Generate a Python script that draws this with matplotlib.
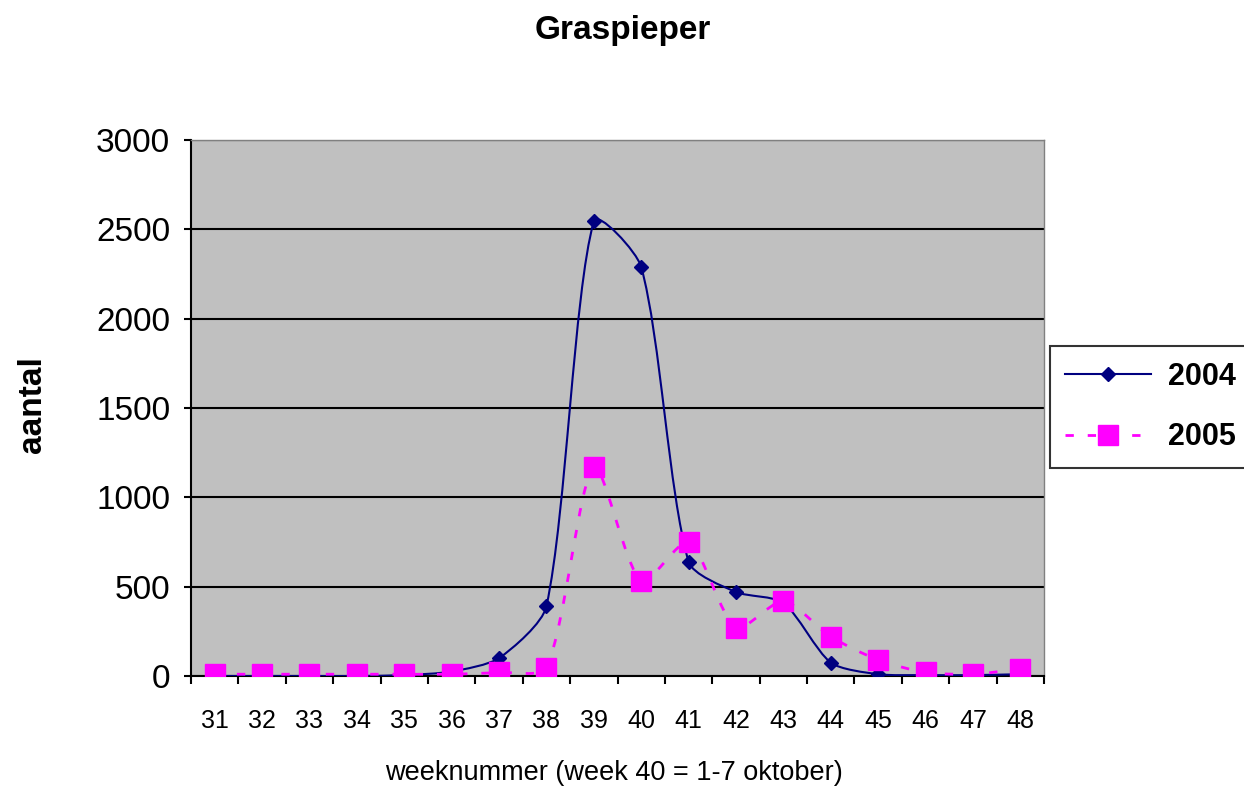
import numpy as np
import matplotlib.pyplot as plt
from matplotlib.path import Path
from matplotlib.patches import PathPatch
from matplotlib.lines import Line2D

plt.rcParams['font.family'] = ['Liberation Sans', 'DejaVu Sans']

# week numbers and counts
weeks = [31, 32, 33, 34, 35, 36, 37, 38, 39, 40, 41, 42, 43, 44, 45, 46, 47, 48]
y2004 = [0, 0, 0, 0, 5, 25, 100, 390, 2545, 2290, 640, 470, 410, 75, 10, 5, 5, 10]
y2005 = [10, 10, 10, 10, 10, 10, 20, 45, 1170, 530, 750, 270, 420, 220, 90, 20, 10, 40]
y_ticks = [0, 500, 1000, 1500, 2000, 2500, 3000]


def smooth_path(ax, x, y, t=0.25):
    # Excel-like smoothed line, control arms worked out in screen space
    pts = ax.transData.transform(np.column_stack([x, y]))
    n = len(pts)
    seg = np.linalg.norm(np.diff(pts, axis=0), axis=1)
    ctrl_out = []
    ctrl_in = []
    for i in range(n):
        a = pts[max(i - 1, 0)]
        b = pts[min(i + 1, n - 1)]
        d = b - a
        l_prev = seg[i - 1] if i > 0 else 0.0
        l_next = seg[i] if i < n - 1 else 0.0
        tot = l_prev + l_next
        if tot == 0:
            tot = 1.0
        ctrl_out.append(pts[i] + t * d * l_next / tot)
        ctrl_in.append(pts[i] - t * d * l_prev / tot)
    verts = [pts[0]]
    codes = [Path.MOVETO]
    for i in range(n - 1):
        verts += [ctrl_out[i], ctrl_in[i + 1], pts[i + 1]]
        codes += [Path.CURVE4] * 3
    verts = ax.transData.inverted().transform(np.array(verts))
    return Path(verts, codes)


fig = plt.figure(figsize=(12.44, 7.91), dpi=100)
ax = fig.add_axes([191 / 1244, 1 - 676 / 791, 853 / 1244, 536 / 791])
ax.set_facecolor('#c0c0c0')
ax.set_xlim(30.5, 48.5)
ax.set_ylim(0, 3000)

navy = '#000080'
pink = '#ff00ff'

ax.add_patch(PathPatch(smooth_path(ax, weeks, y2004), facecolor='none',
                       edgecolor=navy, lw=1.5, zorder=3))
ax.plot(weeks, y2004, 'D', color=navy, ms=7, zorder=4)

ax.add_patch(PathPatch(smooth_path(ax, weeks, y2005), facecolor='none',
                       edgecolor=pink, lw=2, linestyle=(0, (3, 5)), zorder=3))
ax.plot(weeks, y2005, 's', color=pink, ms=15, mec=pink, zorder=4)

ax.set_yticks(y_ticks)
ax.set_yticklabels([str(v) for v in y_ticks], fontsize=24)
ax.set_xticks(weeks)
ax.set_xticklabels([str(w) for w in weeks], fontsize=18)
ax.set_xticks(np.arange(30.5, 49, 1), minor=True)
ax.tick_params(axis='x', which='major', length=0, pad=24)
ax.tick_params(axis='x', which='minor', length=6, width=1.5, direction='out')
ax.tick_params(axis='y', length=5, width=1.5, pad=10)

ax.grid(axis='y', color='black', lw=1.5)
ax.set_axisbelow(True)
for s in ['top', 'right']:
    ax.spines[s].set_color('#808080')
    ax.spines[s].set_linewidth(1)
ax.spines['left'].set_linewidth(1.5)
ax.spines['bottom'].set_linewidth(1.5)

fig.text(614 / 1244, 1 - 773 / 791, 'weeknummer (week 40 = 1-7 oktober)',
         fontsize=19.5, ha='center', va='center')
fig.text(32 / 1244, 1 - 405 / 791, 'aantal', rotation=90, fontsize=24,
         fontweight='bold', ha='center', va='center')
fig.text(623 / 1244, 1 - 30 / 791, 'Graspieper', fontsize=24,
         fontweight='bold', ha='center', va='center')

handles = [
    Line2D([], [], color=navy, lw=1.5, marker='D', ms=7),
    Line2D([], [], color=pink, lw=2, linestyle=(0, (3, 5)), marker='s', ms=15),
]
leg = fig.legend(handles, ['2004', '2005'], loc='center left',
                 bbox_to_anchor=(1050 / 1244, 1 - 407 / 791),
                 prop={'size': 22, 'weight': 'bold'}, frameon=True,
                 fancybox=False, edgecolor='black', handlelength=2.8,
                 borderaxespad=0, borderpad=0.5, labelspacing=1.0,
                 handletextpad=0.55)
leg.get_frame().set_linewidth(1.5)

fig.savefig('out.png', dpi=100)
